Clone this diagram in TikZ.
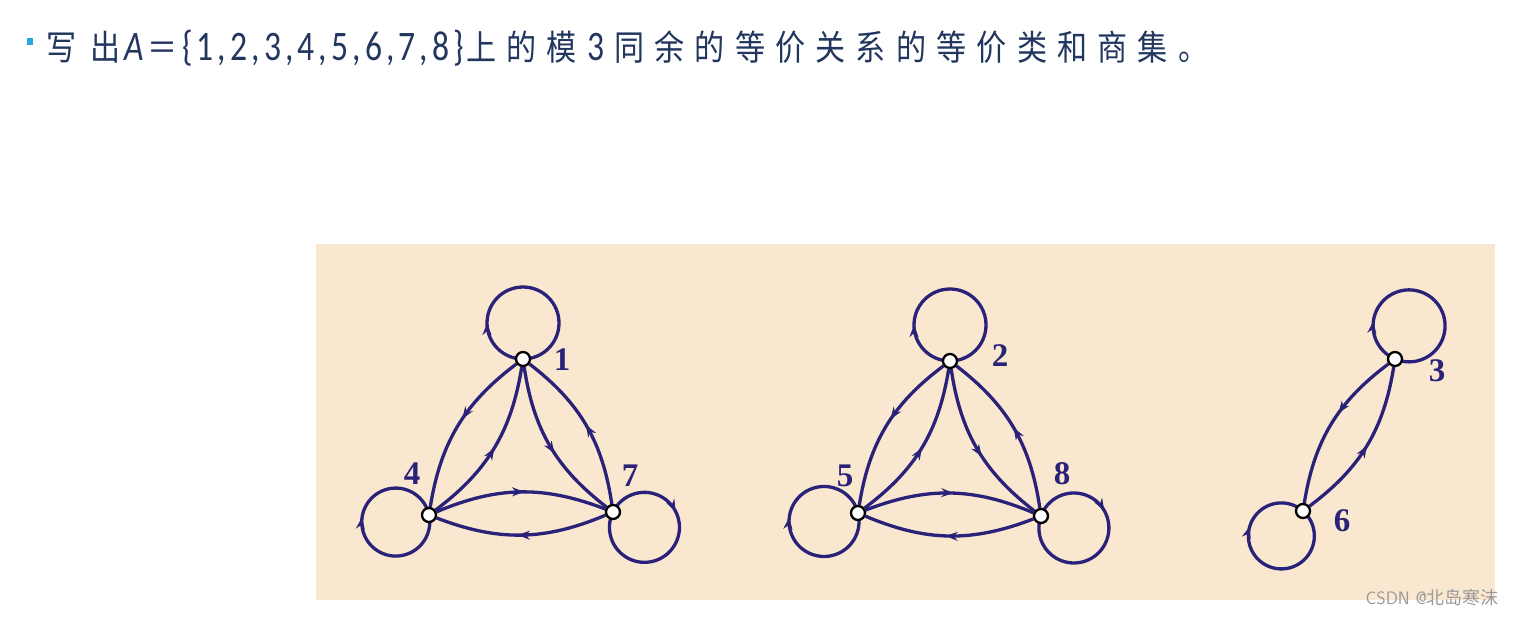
\documentclass[tikz,border=0pt]{standalone}
\usepackage{fontspec}
\setmainfont{Carlito}
\newfontfamily\cjk{Noto Sans CJK SC}
\newfontfamily\labfont{Liberation Serif}
\usetikzlibrary{arrows.meta,decorations.markings}
\definecolor{ink}{HTML}{2A2279}
\definecolor{bgpeach}{HTML}{FAE7CF}
\definecolor{titlecol}{HTML}{22365E}
\definecolor{bulletcol}{HTML}{2AA6DC}
\definecolor{wmcol}{HTML}{9A9A9A}
\newcommand\lt[1]{\scalebox{0.8}[1]{\rmfamily\fontsize{42}{42}\selectfont #1}}
\newcommand\ck[1]{\scalebox{0.86}[1]{#1}}
\newcommand\seg[2]{\makebox[#1pt][s]{#2}}
\pgfdeclarelayer{back}
\pgfdeclarelayer{edges}
\pgfsetlayers{back,edges,main}
\begin{document}
\begin{tikzpicture}[x=1pt,y=1pt,
  vtx/.style={circle,draw=black,fill=white,line width=2.3pt,minimum size=14pt,inner sep=0pt},
  lab/.style={text=ink,font=\labfont\bfseries\fontsize{33}{33}\selectfont,inner sep=0pt},
  edge/.style={draw=ink,line width=3.3pt},
  midarrow/.style={postaction={decorate},decoration={markings,mark=at position #1 with {\arrow{Stealth[length=12pt,width=9pt]}}}},
  bendr/.style={bend right=22},
  bendl/.style={bend left=22},
  ttl/.style={anchor=base west,inner sep=0pt,text=titlecol,font=\cjk\fontsize{35}{35}\selectfont}
]
\useasboundingbox (0,0) rectangle (1515,-616);
\begin{pgfonlayer}{back}
\fill[white] (0,0) rectangle (1515,-616);
\fill[bgpeach] (316,-244) rectangle (1495,-600);
\end{pgfonlayer}

% title
\fill[bulletcol] (27,-38) rectangle (33,-45);
\node[ttl] (t1) at (46,-60) {\seg{74}{\ck{写}\hfil\ck{出}}};
\node[ttl] (t2) at (124,-60) {\seg{340}{\lt{\itshape A}\hfil\ck{＝}\hfil\lt{\{}\hfil\lt{1}\hfil\lt{,}\hfil\lt{2}\hfil\lt{,}\hfil\lt{3}\hfil\lt{,}\hfil\lt{4}\hfil\lt{,}\hfil\lt{5}\hfil\lt{,}\hfil\lt{6}\hfil\lt{,}\hfil\lt{7}\hfil\lt{,}\hfil\lt{8}\hfil\lt{\}}}};
\node[ttl] (t3) at (466,-60) {\seg{742}{\ck{上}\hfil\ck{的}\hfil\ck{模}\hfil\lt{3}\hfil\ck{同}\hfil\ck{余}\hfil\ck{的}\hfil\ck{等}\hfil\ck{价}\hfil\ck{关}\hfil\ck{系}\hfil\ck{的}\hfil\ck{等}\hfil\ck{价}\hfil\ck{类}\hfil\ck{和}\hfil\ck{商}\hfil\ck{集}\hfil\ck{。}}};

% vertices
\node[vtx] (n1) at (523,-359) {};
\node[vtx] (n4) at (429,-515) {};
\node[vtx] (n7) at (613,-512) {};
\node[vtx] (n2) at (950,-361) {};
\node[vtx] (n5) at (858,-513) {};
\node[vtx] (n8) at (1041,-516) {};
\node[vtx] (n3) at (1395,-359) {};
\node[vtx] (n6) at (1303,-511) {};

% labels
\node[lab] (l1) at (562,-360) {1};
\node[lab] (l4) at (412,-474) {4};
\node[lab] (l7) at (630,-476) {7};
\node[lab] (l2) at (1000,-356) {2};
\node[lab] (l5) at (845,-476) {5};
\node[lab] (l8) at (1062,-474) {8};
\node[lab] (l3) at (1437,-371) {3};
\node[lab] (l6) at (1342,-521) {6};

\begin{pgfonlayer}{edges}
% class [1]
\draw[edge,midarrow=0.45] (n1) to[bendr] (n4);
\draw[edge,midarrow=0.5] (n4) to[bendr] (n1);
\draw[edge,midarrow=0.55] (n1) to[bendr] (n7);
\draw[edge,midarrow=0.5] (n7) to[bendr] (n1);
\draw[edge,midarrow=0.52] (n4) to[bendl] (n7);
\draw[edge,midarrow=0.52] (n7) to[bendl] (n4);
\draw[edge,midarrow=0.25] (n1.center) arc[start angle=-90,delta angle=-360,radius=36];
\draw[edge,midarrow=0.556] (n4.center) arc[start angle=12,delta angle=-360,radius=34];
\draw[edge,midarrow=0.353] (n7.center) arc[start angle=154,delta angle=-360,radius=35];
% class [2]
\draw[edge,midarrow=0.45] (n2) to[bendr] (n5);
\draw[edge,midarrow=0.5] (n5) to[bendr] (n2);
\draw[edge,midarrow=0.55] (n2) to[bendr] (n8);
\draw[edge,midarrow=0.5] (n8) to[bendr] (n2);
\draw[edge,midarrow=0.52] (n5) to[bendl] (n8);
\draw[edge,midarrow=0.52] (n8) to[bendl] (n5);
\draw[edge,midarrow=0.25] (n2.center) arc[start angle=-90,delta angle=-360,radius=36];
\draw[edge,midarrow=0.558] (n5.center) arc[start angle=14,delta angle=-360,radius=35];
\draw[edge,midarrow=0.361] (n8.center) arc[start angle=160,delta angle=-360,radius=35];
% class [3]
\draw[edge,midarrow=0.42] (n3) to[bendr] (n6);
\draw[edge,midarrow=0.5] (n6) to[bendr] (n3);
\draw[edge,midarrow=0.206] (n3.center) arc[start angle=-113,delta angle=-360,radius=36];
\draw[edge,midarrow=0.683] (n6.center) arc[start angle=49,delta angle=-360,radius=33];
\end{pgfonlayer}

% watermark
\node[anchor=east,inner sep=0pt,text=wmcol,font=\fontsize{18}{18}\selectfont] (wm) at (1499,-598) {\sffamily CSDN @{\cjk 北岛寒沫}};
\end{tikzpicture}
\end{document}
